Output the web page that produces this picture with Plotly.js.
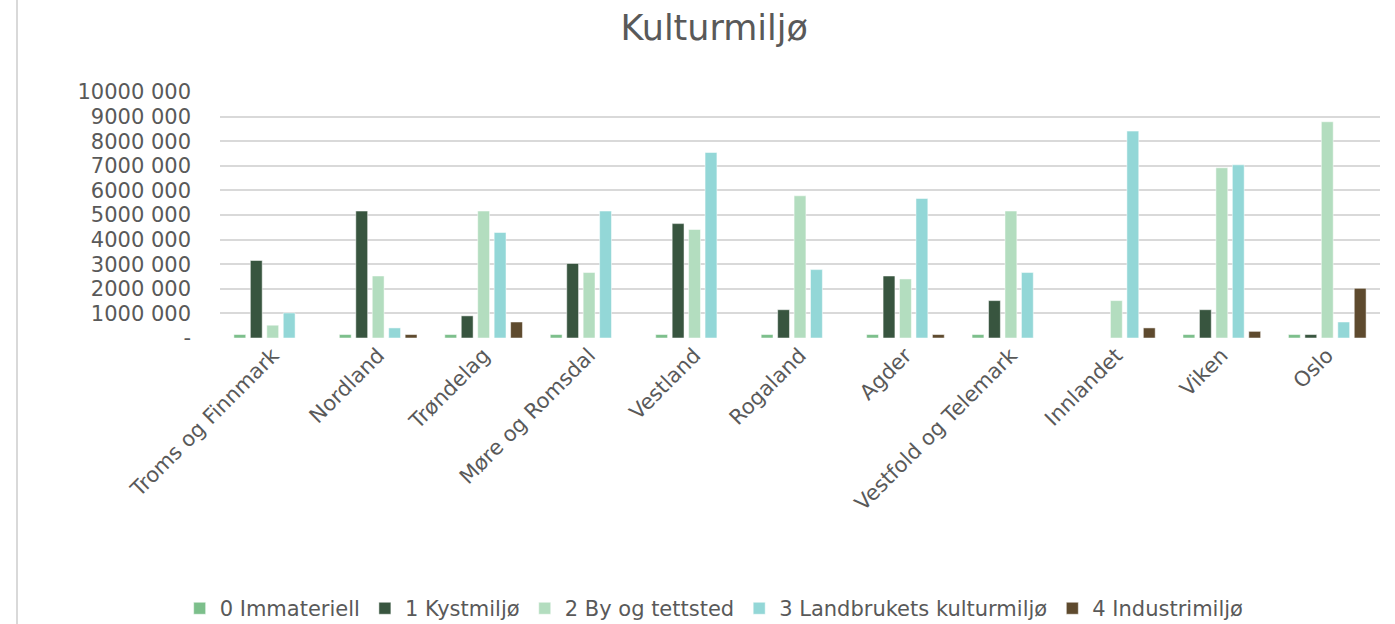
<!DOCTYPE html>
<html><head><meta charset="utf-8">
<script src="https://cdn.plot.ly/plotly-3.0.1.min.js"></script>
<style>html,body{margin:0;padding:0;background:#fff}#c{width:1395px;height:624px}</style>
</head><body><div id="c"></div>
<script>
const categories = ["Troms og Finnmark","Nordland","Trøndelag","Møre og Romsdal","Vestland","Rogaland","Agder","Vestfold og Telemark","Innlandet","Viken","Oslo"];
const seriesNames = ["0 Immateriell","1 Kystmiljø","2 By og tettsted","3 Landbrukets kulturmiljø","4 Industrimiljø"];
const immateriell = [140000,140000,140000,140000,140000,140000,140000,140000,null,140000,140000];
const kystmiljo   = [3150000,5160000,900000,3030000,4650000,1150000,2520000,1520000,null,1150000,140000];
const byTettsted  = [520000,2520000,5160000,2660000,4410000,5780000,2400000,5160000,1520000,6920000,8790000];
const landbruk    = [1020000,410000,4290000,5160000,7540000,2780000,5670000,2660000,8410000,7040000,650000];
const industri    = [null,140000,650000,null,null,null,140000,null,410000,270000,2020000];
const tickVals = [0,1000000,2000000,3000000,4000000,5000000,6000000,7000000,8000000,9000000,10000000];
const tickText = ["-","1000 000","2000 000","3000 000","4000 000","5000 000","6000 000","7000 000","8000 000","9000 000","10000 000"];
const colors = ["#7cbf8b","#38553f","#b3ddbf","#93d7d7","#5e4a2e"];
const values = [immateriell,kystmiljo,byTettsted,landbruk,industri];

const traces = values.map((v,i)=>({
  type:'bar', name:seriesNames[i], x:categories, y:v,
  marker:{color:colors[i], line:{color:'#ffffff', width:0.5}}
}));

const font = "DejaVu Sans, sans-serif";
const layout = {
  width:1395, height:624,
  margin:{l:220,r:15,t:92,b:286,autoexpand:false},
  paper_bgcolor:'#fff', plot_bgcolor:'#fff',
  font:{family:font,color:'#595959',size:21},
  title:{text:'Kulturmiljø', x:0.512, xanchor:'center', y:0.955, yanchor:'middle', font:{size:35,color:'#595959',family:font}},
  barmode:'group', bargap:0.22, bargroupgap:0.28,
  xaxis:{type:'category', tickangle:-45, showline:false, ticks:'', automargin:false, tickfont:{size:21,color:'#595959'}, showgrid:false, zeroline:false},
  yaxis:{range:[0,10000000], tickvals:tickVals, ticktext:tickText, automargin:false, gridcolor:'#d9d9d9', gridwidth:2, zeroline:false, showline:false, ticks:'', tickfont:{size:21,color:'#595959'}, ticklabelstandoff:28},
  legend:{orientation:'h', x:0.426, xanchor:'center', y:-1.1, yanchor:'middle', font:{size:21,color:'#595959'}, itemwidth:30, traceorder:'normal'},
  showlegend:true,
  shapes:[{type:'line', xref:'paper', yref:'paper', x0:-0.175, x1:-0.175, y0:-1.163, y1:1.374, line:{color:'#d9d9d9', width:2}}]
};
Plotly.newPlot('c', traces, layout, {displayModeBar:false, staticPlot:true});
</script></body></html>
